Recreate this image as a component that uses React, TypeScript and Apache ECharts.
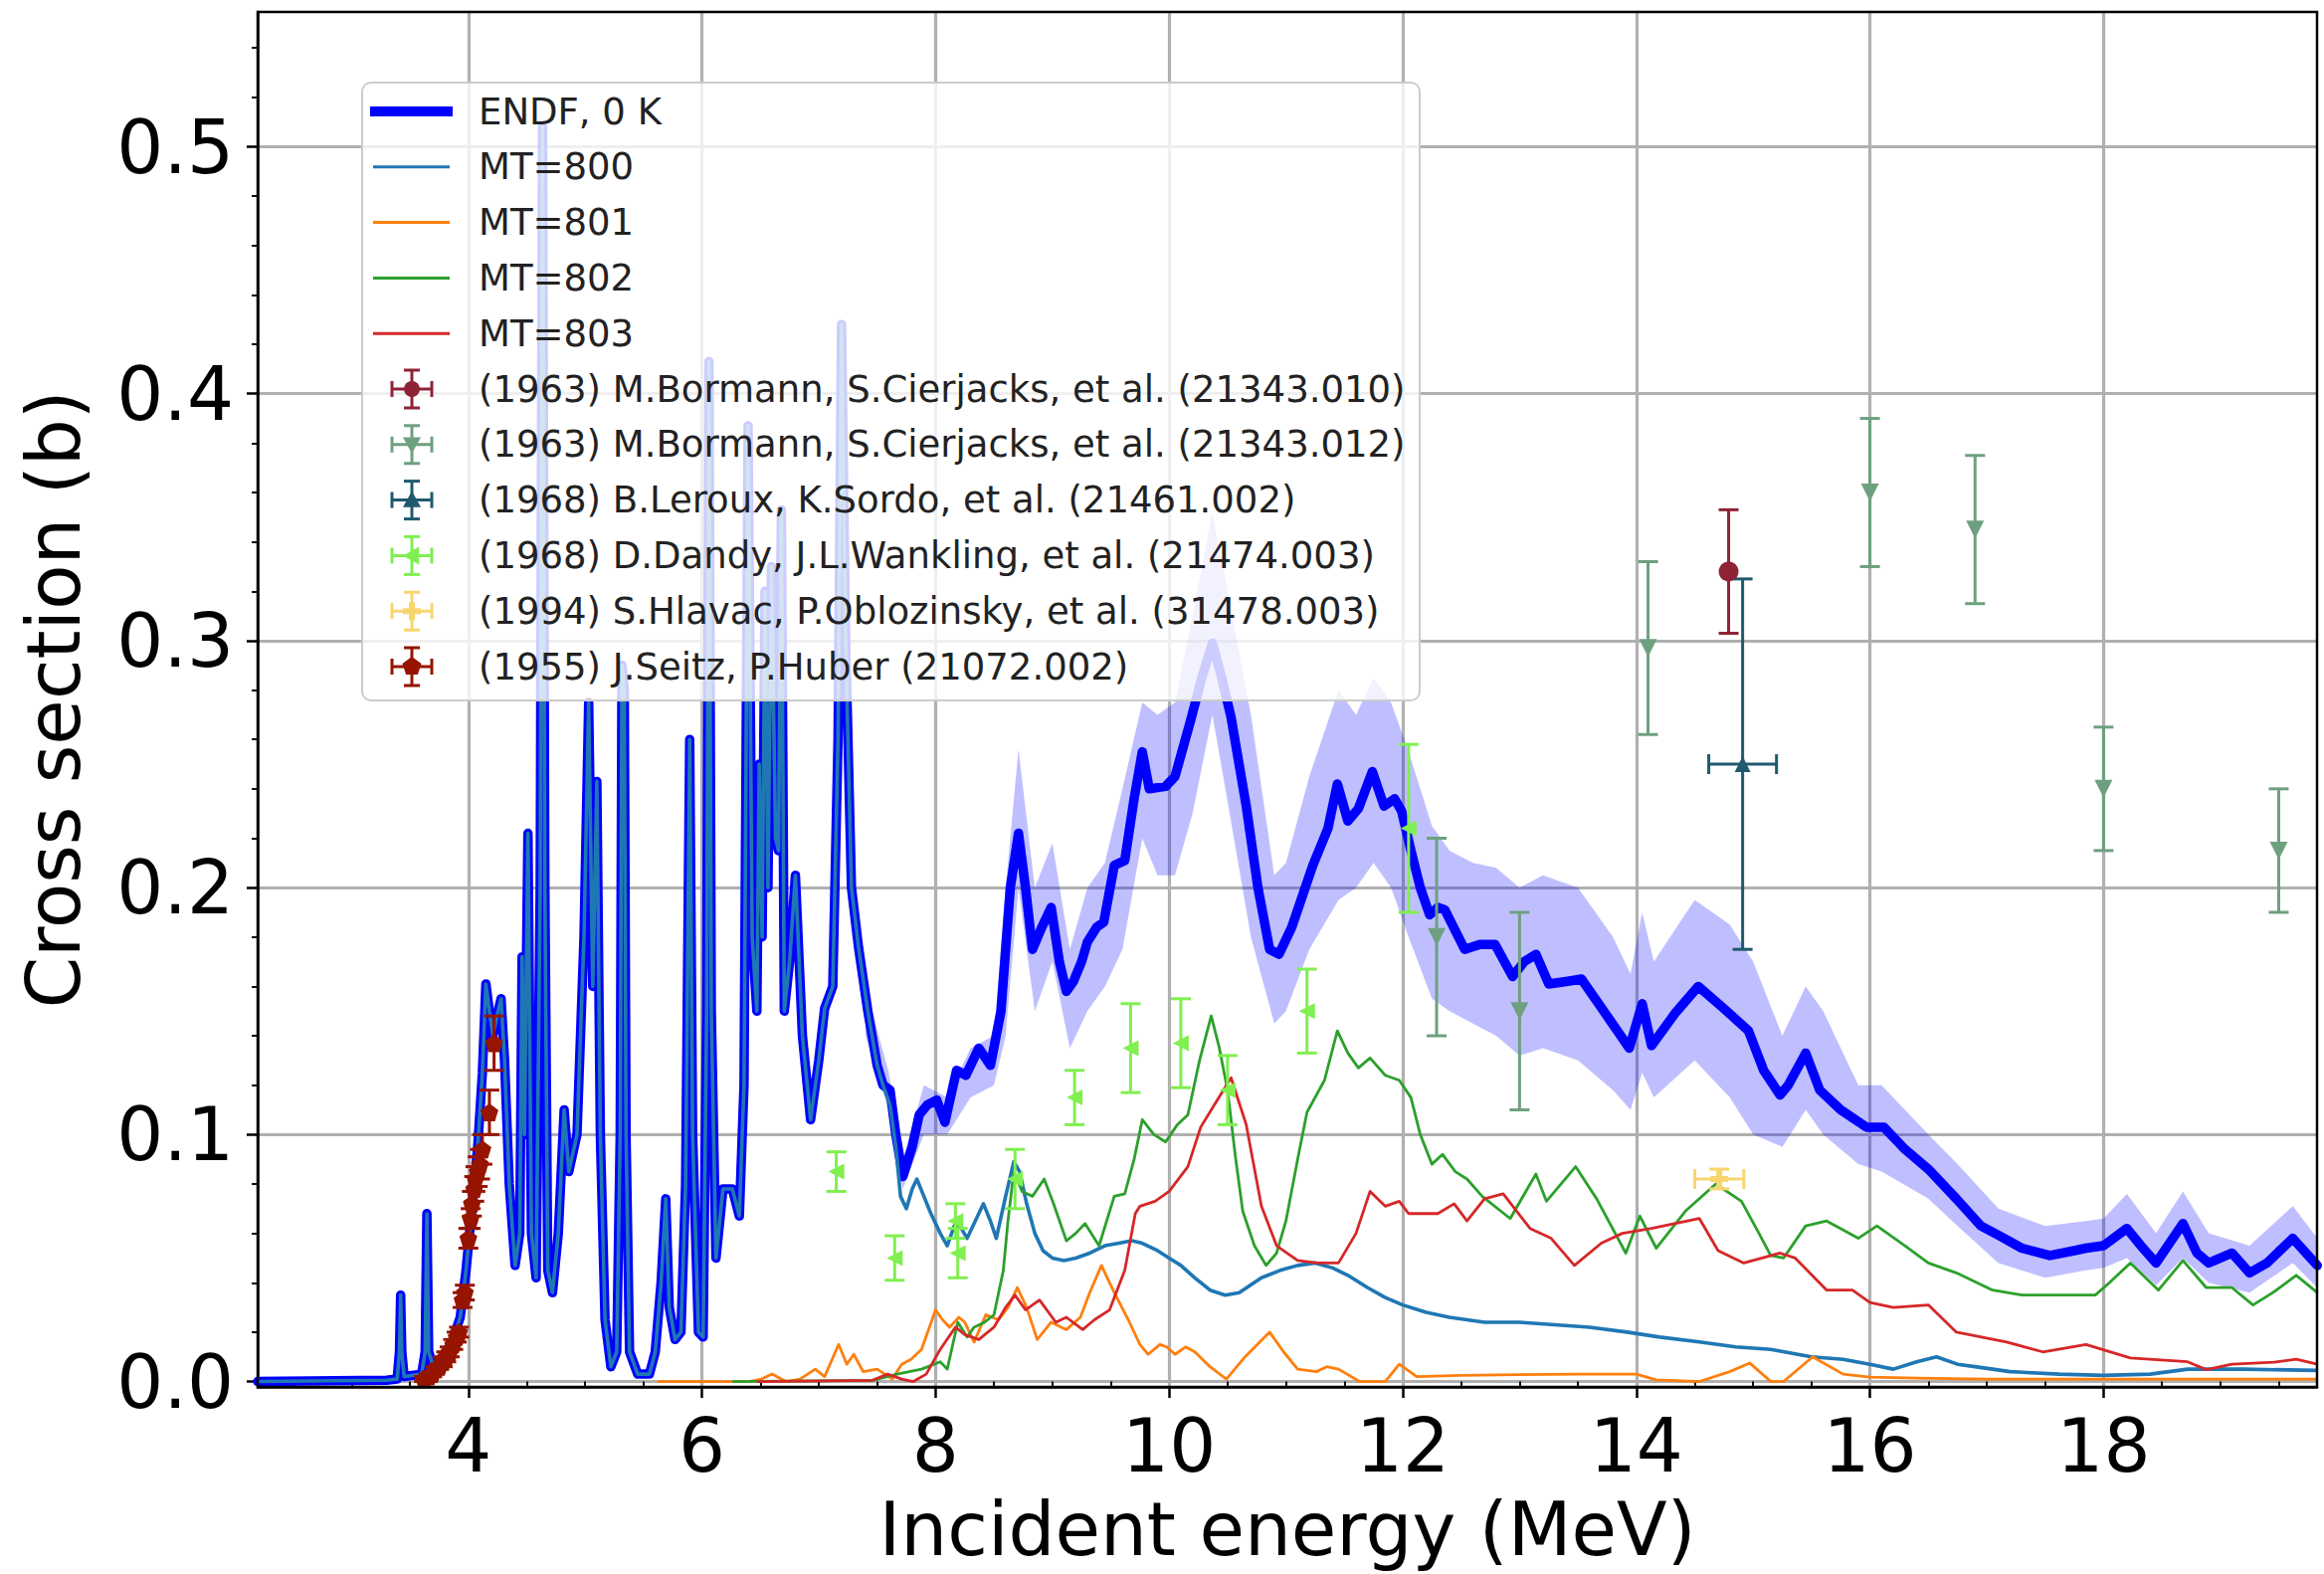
import React, { useEffect, useRef } from "react";
import * as echarts from "echarts";

// ---------------- axis ranges & ticks ----------------
const X_MIN = 2.196;
const X_MAX = 19.828;
const Y_MIN = -0.0022;
const Y_MAX = 0.5546;
const xMajorTicks = [4, 6, 8, 10, 12, 14, 16, 18];
const xMinorTicks = [2.5, 3, 3.5, 4.5, 5, 5.5, 6.5, 7, 7.5, 8.5, 9, 9.5, 10.5, 11, 11.5, 12.5, 13, 13.5, 14.5, 15, 15.5, 16.5, 17, 17.5, 18.5, 19, 19.5];
const yMajorTicks = [0, 0.1, 0.2, 0.3, 0.4, 0.5];
const yMinorTicks = [0.02, 0.04, 0.06, 0.08, 0.12, 0.14, 0.16, 0.18, 0.22, 0.24, 0.26, 0.28, 0.32, 0.34, 0.36, 0.38, 0.42, 0.44, 0.46, 0.48, 0.52, 0.54];

// ---------------- ENDF total (0 K) ----------------
const endfE = [
  2.196, 3.3, 3.39, 3.41, 3.42, 3.43, 3.45, 3.6, 3.63, 3.645, 3.66, 3.7, 3.78, 3.86, 3.93, 3.98,
  4.03, 4.08, 4.12, 4.15, 4.18, 4.21, 4.245, 4.28, 4.31, 4.35, 4.4, 4.44, 4.46, 4.48, 4.51, 4.54,
  4.58, 4.615, 4.635, 4.655, 4.68, 4.72, 4.77, 4.82, 4.86, 4.93, 4.99, 5.03, 5.065, 5.1, 5.13, 5.17,
  5.22, 5.27, 5.3, 5.315, 5.335, 5.35, 5.38, 5.45, 5.55, 5.6, 5.65, 5.69, 5.72, 5.77, 5.82, 5.86,
  5.895, 5.92, 5.97, 6.01, 6.04, 6.06, 6.08, 6.12, 6.18, 6.26, 6.32, 6.36, 6.395, 6.43, 6.47, 6.49,
  6.515, 6.54, 6.565, 6.595, 6.63, 6.655, 6.68, 6.705, 6.75, 6.8, 6.86, 6.93, 7.0, 7.05, 7.12, 7.165,
  7.195, 7.23, 7.28, 7.34, 7.42, 7.5, 7.55, 7.61, 7.66, 7.72, 7.8, 7.86, 7.93, 8.01, 8.08, 8.18,
  8.26, 8.37, 8.47, 8.56, 8.64, 8.71, 8.77, 8.83, 8.91, 8.99, 9.06, 9.12, 9.18, 9.25, 9.3, 9.38,
  9.44, 9.53, 9.62, 9.7, 9.77, 9.83, 9.97, 10.05, 10.18, 10.28, 10.37, 10.45, 10.53, 10.66, 10.76, 10.86,
  10.94, 11.05, 11.23, 11.36, 11.44, 11.53, 11.62, 11.74, 11.84, 11.93, 11.99, 12.07, 12.15, 12.23, 12.3, 12.36,
  12.53, 12.66, 12.79, 12.94, 13.04, 13.14, 13.25, 13.4, 13.53, 13.75, 13.94, 14.05, 14.13, 14.33, 14.53, 14.75,
  14.96, 15.09, 15.23, 15.3, 15.45, 15.57, 15.75, 15.97, 16.12, 16.3, 16.5, 16.74, 16.95, 17.11, 17.3, 17.54,
  17.75, 17.85, 18.0, 18.2, 18.32, 18.45, 18.68, 18.8, 18.9, 19.1, 19.25, 19.4, 19.62, 19.83,
];
const endfXS = [
  0.0, 0.0005, 0.001, 0.012, 0.035, 0.012, 0.002, 0.003, 0.012, 0.068, 0.012, 0.006, 0.009, 0.016, 0.026, 0.045,
  0.07, 0.095, 0.125, 0.161, 0.15, 0.14, 0.148, 0.155, 0.13, 0.08, 0.047, 0.06, 0.172, 0.1, 0.222, 0.06,
  0.042, 0.2, 0.508, 0.2, 0.045, 0.036, 0.06, 0.11, 0.085, 0.1, 0.18, 0.275, 0.16, 0.243, 0.1, 0.025,
  0.006, 0.012, 0.1, 0.29, 0.28, 0.1, 0.012, 0.003, 0.003, 0.012, 0.04, 0.074, 0.03, 0.017, 0.02, 0.08,
  0.26, 0.1, 0.02, 0.018, 0.15, 0.413, 0.15, 0.05, 0.078, 0.078, 0.067, 0.12, 0.387, 0.18, 0.15, 0.25,
  0.18, 0.32, 0.2, 0.33, 0.22, 0.215, 0.353, 0.15, 0.17, 0.205, 0.14, 0.106, 0.13, 0.151, 0.16, 0.26,
  0.428, 0.3, 0.2, 0.176, 0.15, 0.128, 0.12, 0.118, 0.1, 0.083, 0.095, 0.108, 0.112, 0.114, 0.105, 0.126,
  0.124, 0.135, 0.128, 0.15, 0.2, 0.222, 0.2, 0.175, 0.184, 0.192, 0.17, 0.158, 0.162, 0.17, 0.178, 0.184,
  0.186, 0.209, 0.211, 0.236, 0.255, 0.24, 0.241, 0.245, 0.267, 0.285, 0.299, 0.285, 0.269, 0.233, 0.2, 0.175,
  0.173, 0.184, 0.209, 0.224, 0.242, 0.227, 0.232, 0.247, 0.233, 0.236, 0.231, 0.215, 0.2, 0.189, 0.192, 0.191,
  0.175, 0.177, 0.177, 0.164, 0.17, 0.173, 0.161, 0.162, 0.163, 0.148, 0.135, 0.153, 0.136, 0.149, 0.16, 0.151,
  0.142, 0.126, 0.116, 0.12, 0.133, 0.118, 0.11, 0.103, 0.103, 0.094, 0.086, 0.074, 0.063, 0.059, 0.054, 0.051,
  0.053, 0.054, 0.055, 0.062, 0.055, 0.048, 0.064, 0.052, 0.048, 0.052, 0.044, 0.048, 0.058, 0.047,
];

// uncertainty band of the total
const bandE = [
  7.4, 7.6, 7.72, 7.9, 8.1, 8.3, 8.5, 8.6, 8.71, 8.85, 9.0, 9.15, 9.3, 9.45, 9.6, 9.77,
  9.9, 10.05, 10.2, 10.37, 10.5, 10.7, 10.9, 11.0, 11.2, 11.45, 11.6, 11.75, 11.9, 12.05, 12.25, 12.4,
  12.6, 12.8, 13.0, 13.2, 13.5, 13.8, 13.95, 14.05, 14.15, 14.5, 14.8, 15.0, 15.25, 15.45, 15.6, 15.9,
  16.1, 16.5, 16.75, 17.1, 17.5, 17.85, 18.0, 18.2, 18.45, 18.68, 18.9, 19.25, 19.62, 19.83,
];
const bandLo = [
  0.14, 0.11, 0.078, 0.1, 0.1, 0.115, 0.12, 0.14, 0.2, 0.15, 0.17, 0.135, 0.15, 0.16, 0.175, 0.22,
  0.205, 0.205, 0.23, 0.27, 0.235, 0.18, 0.145, 0.15, 0.175, 0.195, 0.2, 0.21, 0.2, 0.18, 0.155, 0.15,
  0.145, 0.14, 0.132, 0.135, 0.13, 0.118, 0.11, 0.125, 0.115, 0.13, 0.115, 0.1, 0.095, 0.11, 0.1, 0.088,
  0.085, 0.074, 0.063, 0.048, 0.042, 0.045, 0.046, 0.05, 0.039, 0.05, 0.04, 0.036, 0.048, 0.038,
];
const bandHi = [
  0.16, 0.125, 0.09, 0.12, 0.115, 0.135, 0.14, 0.2, 0.256, 0.2, 0.218, 0.175, 0.2, 0.21, 0.24, 0.275,
  0.27, 0.275, 0.31, 0.352, 0.32, 0.27, 0.205, 0.21, 0.245, 0.28, 0.27, 0.285, 0.275, 0.255, 0.225, 0.215,
  0.21, 0.208, 0.2, 0.205, 0.2, 0.18, 0.165, 0.19, 0.17, 0.195, 0.185, 0.17, 0.14, 0.16, 0.15, 0.12,
  0.12, 0.1, 0.088, 0.07, 0.063, 0.065, 0.066, 0.076, 0.06, 0.077, 0.06, 0.055, 0.071, 0.058,
];

// ---------------- partial reactions ----------------
const MT800_SPLIT_E = 7.55; // below this MT=800 coincides with the total
const mt800TailE = [
  7.61, 7.66, 7.7, 7.75, 7.8, 7.84, 7.9, 7.96, 8.04, 8.1, 8.16, 8.22, 8.27, 8.33, 8.41, 8.47,
  8.52, 8.6, 8.67, 8.72, 8.78, 8.85, 8.92, 9.0, 9.1, 9.2, 9.32, 9.45, 9.57, 9.68, 9.77, 9.9,
  10.0, 10.1, 10.22, 10.35, 10.48, 10.6, 10.79, 10.95, 11.1, 11.25, 11.4, 11.53, 11.7, 11.85, 12.0, 12.2,
  12.4, 12.7, 13.0, 13.3, 13.6, 13.92, 14.2, 14.54, 14.85, 15.15, 15.5, 15.77, 16.0, 16.2, 16.4, 16.57,
  16.75, 16.9, 17.2, 17.62, 18.0, 18.4, 18.72, 19.2, 19.83,
];
const mt800TailXS = [
  0.112, 0.095, 0.075, 0.07, 0.078, 0.082, 0.075, 0.068, 0.06, 0.055, 0.063, 0.062, 0.058, 0.064, 0.072, 0.065,
  0.058, 0.075, 0.089, 0.085, 0.072, 0.06, 0.053, 0.05, 0.049, 0.05, 0.052, 0.055, 0.056, 0.057, 0.056, 0.053,
  0.05, 0.047, 0.042, 0.037, 0.035, 0.036, 0.042, 0.045, 0.047, 0.048, 0.046, 0.043, 0.038, 0.034, 0.031, 0.028,
  0.026, 0.024, 0.024, 0.023, 0.022, 0.02, 0.018, 0.016, 0.014, 0.013, 0.01, 0.009, 0.007, 0.005, 0.008, 0.01,
  0.007, 0.006, 0.004, 0.003, 0.0025, 0.003, 0.005, 0.005, 0.0045,
];

const mt801E = [
  5.62, 6.4, 6.51, 6.6, 6.72, 6.84, 6.97, 7.05, 7.17, 7.24, 7.3, 7.38, 7.5, 7.63, 7.71, 7.79,
  7.88, 8.0, 8.06, 8.12, 8.2, 8.25, 8.33, 8.43, 8.54, 8.62, 8.7, 8.78, 8.87, 8.99, 9.12, 9.24,
  9.32, 9.42, 9.53, 9.65, 9.75, 9.82, 9.92, 9.98, 10.05, 10.14, 10.22, 10.35, 10.49, 10.65, 10.86, 10.98,
  11.1, 11.26, 11.35, 11.45, 11.63, 11.85, 11.97, 12.12, 12.5, 13.0, 13.5, 14.0, 14.17, 14.54, 14.8, 14.97,
  15.15, 15.26, 15.51, 15.77, 16.0, 16.4, 17.0, 18.0, 19.0, 19.83,
];
const mt801XS = [
  0.0, 0.0, 0.001, 0.003, 0.0, 0.001, 0.005, 0.002, 0.015, 0.007, 0.011, 0.004, 0.005, 0.001, 0.007, 0.009,
  0.013, 0.029, 0.025, 0.022, 0.026, 0.024, 0.016, 0.027, 0.025, 0.03, 0.038, 0.03, 0.017, 0.024, 0.021, 0.026,
  0.036, 0.047, 0.036, 0.025, 0.015, 0.011, 0.015, 0.014, 0.011, 0.014, 0.012, 0.006, 0.001, 0.01, 0.02, 0.012,
  0.005, 0.004, 0.006, 0.005, 0.0, 0.0, 0.007, 0.002, 0.0025, 0.0028, 0.003, 0.003, 0.0007, 0.0, 0.004, 0.0075,
  0.0, 0.0, 0.01, 0.003, 0.0018, 0.0014, 0.001, 0.001, 0.001, 0.001,
];

const mt802E = [
  6.26, 7.46, 7.67, 7.88, 8.04, 8.1, 8.19, 8.27, 8.33, 8.42, 8.5, 8.58, 8.62, 8.67, 8.74, 8.83,
  8.93, 9.01, 9.12, 9.2, 9.28, 9.4, 9.53, 9.62, 9.7, 9.77, 9.87, 9.97, 10.07, 10.16, 10.26, 10.36,
  10.43, 10.5, 10.57, 10.63, 10.73, 10.83, 10.92, 11.0, 11.1, 11.18, 11.33, 11.44, 11.53, 11.62, 11.72, 11.85,
  11.97, 12.07, 12.15, 12.25, 12.34, 12.45, 12.55, 12.68, 12.92, 13.14, 13.23, 13.48, 13.66, 13.91, 14.03, 14.17,
  14.42, 14.68, 14.9, 15.05, 15.15, 15.26, 15.45, 15.63, 15.9, 16.06, 16.3, 16.5, 16.74, 17.05, 17.3, 17.93,
  18.05, 18.23, 18.47, 18.68, 18.88, 19.1, 19.28, 19.45, 19.65, 19.83,
];
const mt802XS = [
  0.0, 0.0005, 0.003, 0.005, 0.008, 0.005, 0.024, 0.018, 0.022, 0.024, 0.027, 0.045, 0.065, 0.085, 0.077, 0.075,
  0.082, 0.072, 0.057, 0.06, 0.064, 0.055, 0.075, 0.076, 0.09, 0.106, 0.1, 0.097, 0.104, 0.108, 0.13, 0.148,
  0.135, 0.118, 0.09, 0.069, 0.055, 0.047, 0.052, 0.065, 0.09, 0.109, 0.122, 0.142, 0.133, 0.127, 0.131, 0.124,
  0.122, 0.115, 0.1, 0.088, 0.092, 0.085, 0.082, 0.075, 0.066, 0.084, 0.073, 0.087, 0.074, 0.052, 0.067, 0.054,
  0.069, 0.08, 0.073, 0.06, 0.051, 0.05, 0.063, 0.065, 0.058, 0.063, 0.055, 0.048, 0.044, 0.037, 0.035, 0.035,
  0.04, 0.048, 0.037, 0.049, 0.038, 0.038, 0.031, 0.036, 0.043, 0.036,
];

const mt803E = [
  6.47, 7.46, 7.59, 7.71, 7.81, 7.92, 8.04, 8.17, 8.25, 8.37, 8.5, 8.6, 8.68, 8.77, 8.89, 9.03,
  9.12, 9.26, 9.36, 9.49, 9.62, 9.71, 9.75, 9.88, 10.0, 10.16, 10.27, 10.4, 10.53, 10.66, 10.79, 10.92,
  11.1, 11.27, 11.45, 11.6, 11.72, 11.85, 11.97, 12.05, 12.3, 12.44, 12.55, 12.7, 12.86, 13.09, 13.27, 13.47,
  13.7, 13.88, 14.13, 14.54, 14.7, 14.92, 15.23, 15.36, 15.63, 15.85, 16.0, 16.2, 16.5, 16.74, 17.17, 17.48,
  17.85, 18.23, 18.72, 18.88, 19.1, 19.46, 19.65, 19.83,
];
const mt803XS = [
  0.0, 0.0005, 0.003, 0.001, 0.0, 0.003, 0.013, 0.022, 0.019, 0.017, 0.022, 0.03, 0.035, 0.029, 0.033, 0.024,
  0.026, 0.021, 0.025, 0.029, 0.045, 0.068, 0.071, 0.073, 0.077, 0.087, 0.103, 0.113, 0.123, 0.104, 0.071, 0.055,
  0.049, 0.048, 0.048, 0.06, 0.077, 0.071, 0.073, 0.068, 0.068, 0.072, 0.065, 0.074, 0.076, 0.062, 0.058, 0.047,
  0.056, 0.06, 0.062, 0.066, 0.053, 0.048, 0.052, 0.05, 0.037, 0.037, 0.032, 0.03, 0.031, 0.02, 0.016, 0.012,
  0.015, 0.0095, 0.008, 0.0048, 0.007, 0.0078, 0.009, 0.007,
];

// ---------------- EXFOR data ----------------
const bormann010E = [14.79];
const bormann010XS = [0.328];
const bormann010dXS = [0.025];

const bormann012E = [12.29, 13.0, 14.1, 16.0, 16.9, 18.0, 19.5];
const bormann012XS = [0.18, 0.15, 0.297, 0.36, 0.345, 0.24, 0.215];
const bormann012dXS = [0.04, 0.04, 0.035, 0.03, 0.03, 0.025, 0.025];

const lerouxE = [14.91];
const lerouxXS = [0.25];
const lerouxdXS = [0.075];
const lerouxdE = [0.29];

const dandyE = [7.15, 7.65, 8.17, 8.19, 8.68, 9.19, 9.67, 10.1, 10.5, 11.18, 12.05];
const dandyXS = [0.085, 0.05, 0.065, 0.052, 0.082, 0.115, 0.135, 0.137, 0.118, 0.15, 0.224];
const dandydXS = [0.008, 0.009, 0.007, 0.01, 0.012, 0.011, 0.018, 0.018, 0.014, 0.017, 0.034];

const hlavacE = [14.71];
const hlavacXS = [0.082];
const hlavacdXS = [0.004];
const hlavacdE = [0.21];

const seitzE = [3.62, 3.66, 3.69, 3.72, 3.75, 3.78, 3.81, 3.84, 3.87, 3.9, 3.92, 3.95, 3.97, 4.0, 4.02, 4.03, 4.05, 4.06, 4.08, 4.1, 4.12, 4.18, 4.22];
const seitzXS = [0.001, 0.002, 0.003, 0.005, 0.006, 0.008, 0.01, 0.012, 0.015, 0.018, 0.02, 0.033, 0.036, 0.058, 0.066, 0.072, 0.078, 0.082, 0.085, 0.088, 0.094, 0.109, 0.137];
const seitzdXS = [0.001, 0.001, 0.001, 0.001, 0.001, 0.002, 0.002, 0.002, 0.002, 0.002, 0.002, 0.003, 0.003, 0.004, 0.004, 0.005, 0.005, 0.005, 0.006, 0.006, 0.006, 0.009, 0.011];

// ---------------- styles ----------------
const FONT = "DejaVu Sans";
const C_TOTAL = "#0000ff";
const C_800 = "#1f77b4";
const C_801 = "#ff7f0e";
const C_802 = "#2ca02c";
const C_803 = "#d62728";
const C_B010 = "#8f2336";
const C_B012 = "#6ea080";
const C_LER = "#1f5a6e";
const C_DAN = "#80ef50";
const C_HLA = "#f8d66e";
const C_SEI = "#961400";

const GRID_L = 259;
const GRID_T = 12;
const GRID_W = 2070;
const GRID_H = 1382;

const PENTAGON = "path://M0,-10L9.5,-3.1L5.9,8.1L-5.9,8.1L-9.5,-3.1Z";
const PLUS = "path://M-3,-9H3V-3H9V3H3V9H-3V3H-9V-3H-3Z";

function pairs(xs: number[], ys: number[]) {
  return xs.map((x, i) => [x, ys[i]]);
}

function errorBarSeries(name: string, color: string, xs: number[], ys: number[], dys: number[], dxs?: number[]) {
  const data = xs.map((x, i) => [x, ys[i], dxs ? dxs[i] : 0, dys[i]]);
  const cap = 10;
  return {
    type: "custom",
    name: name + " err",
    z: 4,
    silent: true,
    data,
    encode: { x: 0, y: 1 },
    renderItem: (params: any, api: any) => {
      const x = api.value(0);
      const y = api.value(1);
      const dx = api.value(2);
      const dy = api.value(3);
      const style = { stroke: color, lineWidth: 3, fill: "none" };
      const children: any[] = [];
      if (dy > 0) {
        const t = api.coord([x, y + dy]);
        const b = api.coord([x, y - dy]);
        children.push({ type: "line", shape: { x1: t[0], y1: t[1], x2: b[0], y2: b[1] }, style });
        children.push({ type: "line", shape: { x1: t[0] - cap, y1: t[1], x2: t[0] + cap, y2: t[1] }, style });
        children.push({ type: "line", shape: { x1: b[0] - cap, y1: b[1], x2: b[0] + cap, y2: b[1] }, style });
      }
      if (dx > 0) {
        const l = api.coord([x - dx, y]);
        const r = api.coord([x + dx, y]);
        children.push({ type: "line", shape: { x1: l[0], y1: l[1], x2: r[0], y2: r[1] }, style });
        children.push({ type: "line", shape: { x1: l[0], y1: l[1] - cap, x2: l[0], y2: l[1] + cap }, style });
        children.push({ type: "line", shape: { x1: r[0], y1: r[1] - cap, x2: r[0], y2: r[1] + cap }, style });
      }
      return { type: "group", children };
    },
  };
}

function markerSeries(name: string, color: string, xs: number[], ys: number[], symbol: string, size: number, rotate = 0) {
  return {
    type: "scatter",
    name,
    z: 5,
    silent: true,
    symbol,
    symbolSize: size,
    symbolRotate: rotate,
    itemStyle: { color, opacity: 1 },
    data: pairs(xs, ys),
  };
}

// ---------------- legend (drawn as graphics) ----------------
const legendLabels = [
  "ENDF, 0 K",
  "MT=800",
  "MT=801",
  "MT=802",
  "MT=803",
  "(1963) M.Bormann, S.Cierjacks, et al. (21343.010)",
  "(1963) M.Bormann, S.Cierjacks, et al. (21343.012)",
  "(1968) B.Leroux, K.Sordo, et al. (21461.002)",
  "(1968) D.Dandy, J.L.Wankling, et al. (21474.003)",
  "(1994) S.Hlavac, P.Oblozinsky, et al. (31478.003)",
  "(1955) J.Seitz, P.Huber (21072.002)",
];
const legendColors = [C_TOTAL, C_800, C_801, C_802, C_803, C_B010, C_B012, C_LER, C_DAN, C_HLA, C_SEI];
const legendMarkers = ["", "", "", "", "", "circle", "triDown", "triUp", "triLeft", "plus", "pentagon"];

function legendMarker(kind: string, cx: number, cy: number, color: string): any {
  const s = 9;
  const base = { z: 101, silent: true, style: { fill: color } };
  if (kind === "circle") return { ...base, type: "circle", shape: { cx, cy, r: 8 } };
  let pts: number[][] = [];
  if (kind === "triDown") pts = [[cx - s, cy - s * 0.8], [cx + s, cy - s * 0.8], [cx, cy + s]];
  if (kind === "triUp") pts = [[cx - s, cy + s * 0.8], [cx + s, cy + s * 0.8], [cx, cy - s]];
  if (kind === "triLeft") pts = [[cx + s * 0.8, cy - s], [cx + s * 0.8, cy + s], [cx - s, cy]];
  if (kind === "plus") pts = [[cx - 3, cy - 9], [cx + 3, cy - 9], [cx + 3, cy - 3], [cx + 9, cy - 3], [cx + 9, cy + 3], [cx + 3, cy + 3], [cx + 3, cy + 9], [cx - 3, cy + 9], [cx - 3, cy + 3], [cx - 9, cy + 3], [cx - 9, cy - 3], [cx - 3, cy - 3]];
  if (kind === "pentagon") pts = [[cx, cy - 10], [cx + 9.5, cy - 3.1], [cx + 5.9, cy + 8.1], [cx - 5.9, cy + 8.1], [cx - 9.5, cy - 3.1]];
  return { ...base, type: "polygon", shape: { points: pts } };
}

function buildLegend(): any[] {
  const els: any[] = [];
  const LX = 364, LY = 83, LW = 1063, LH = 621;
  els.push({
    type: "rect",
    z: 100,
    silent: true,
    shape: { x: LX, y: LY, width: LW, height: LH, r: 9 },
    style: { fill: "rgba(255,255,255,0.8)", stroke: "#cccccc", lineWidth: 2 },
  });
  legendLabels.forEach((label, i) => {
    const cy = 112 + i * 55.8;
    const color = legendColors[i];
    if (i < 5) {
      els.push({
        type: "line",
        z: 101,
        silent: true,
        shape: { x1: i === 0 ? 372 : 375, y1: cy, x2: i === 0 ? 455 : 452, y2: cy },
        style: { stroke: color, lineWidth: i === 0 ? 10 : 3 },
      });
    } else {
      const cx = 414;
      const st = { stroke: color, lineWidth: 3 };
      const seg = (x1: number, y1: number, x2: number, y2: number) =>
        els.push({ type: "line", z: 101, silent: true, shape: { x1, y1, x2, y2 }, style: st });
      seg(cx - 20, cy, cx + 20, cy);
      seg(cx, cy - 19, cx, cy + 19);
      seg(cx - 20, cy - 8, cx - 20, cy + 8);
      seg(cx + 20, cy - 8, cx + 20, cy + 8);
      seg(cx - 8, cy - 19, cx + 8, cy - 19);
      seg(cx - 8, cy + 19, cx + 8, cy + 19);
      els.push(legendMarker(legendMarkers[i], cx, cy, color));
    }
    els.push({
      type: "text",
      z: 101,
      silent: true,
      x: 481,
      y: cy,
      style: {
        text: label,
        fontSize: 37,
        fontFamily: FONT,
        fill: "#222222",
        textAlign: "left",
        textVerticalAlign: "middle",
        align: "left",
        verticalAlign: "middle",
      },
    });
  });
  return els;
}

export default function App() {
  const ref = useRef<HTMLDivElement>(null);

  useEffect(() => {
    if (!ref.current) return;
    const chart = echarts.init(ref.current, undefined, { renderer: "svg" });

    const mt800Data = pairs(endfE, endfXS)
      .filter((p) => p[0] <= MT800_SPLIT_E)
      .concat(pairs(mt800TailE, mt800TailXS));

    const axisCommonX = {
      type: "value",
      min: X_MIN,
      max: X_MAX,
      gridIndex: 0,
      position: "bottom",
    };
    const axisCommonY = {
      type: "value",
      min: Y_MIN,
      max: Y_MAX,
      gridIndex: 0,
      position: "left",
    };

    const option: any = {
      animation: false,
      backgroundColor: "#ffffff",
      textStyle: { fontFamily: FONT },
      grid: { left: GRID_L, top: GRID_T, width: GRID_W, height: GRID_H, containLabel: false, show: false },
      xAxis: [
        {
          ...axisCommonX,
          splitNumber: 8,
          name: "Incident energy (MeV)",
          nameLocation: "middle",
          nameGap: 106,
          nameTextStyle: { fontSize: 74, fontFamily: FONT, color: "#000" },
          axisLine: { show: true, onZero: false, lineStyle: { color: "#000", width: 2.5 } },
          axisTick: { show: true, inside: false, length: 11, customValues: xMajorTicks, lineStyle: { color: "#000", width: 2.5 } },
          axisLabel: {
            show: true,
            customValues: xMajorTicks,
            margin: 22,
            fontSize: 74,
            fontFamily: FONT,
            color: "#000",
            formatter: (v: number) => String(Math.round(v)),
          },
          splitLine: { show: true, lineStyle: { color: "#b0b0b0", width: 3.2 } },
          minorTick: { show: false },
        },
        {
          ...axisCommonX,
          axisLine: { show: false },
          axisTick: { show: true, inside: false, length: 6, customValues: xMinorTicks, lineStyle: { color: "#000", width: 1.9 } },
          axisLabel: { show: false },
          splitLine: { show: false },
        },
      ],
      yAxis: [
        {
          ...axisCommonY,
          splitNumber: 5,
          name: "Cross section (b)",
          nameLocation: "middle",
          nameGap: 168,
          nameTextStyle: { fontSize: 74, fontFamily: FONT, color: "#000" },
          axisLine: { show: true, onZero: false, lineStyle: { color: "#000", width: 2.5 } },
          axisTick: { show: true, inside: false, length: 11, customValues: yMajorTicks, lineStyle: { color: "#000", width: 2.5 } },
          axisLabel: {
            show: true,
            customValues: yMajorTicks,
            margin: 24,
            fontSize: 74,
            fontFamily: FONT,
            color: "#000",
            formatter: (v: number) => v.toFixed(1),
          },
          splitLine: { show: true, lineStyle: { color: "#b0b0b0", width: 3.2 } },
        },
        {
          ...axisCommonY,
          axisLine: { show: false },
          axisTick: { show: true, inside: false, length: 6, customValues: yMinorTicks, lineStyle: { color: "#000", width: 1.9 } },
          axisLabel: { show: false },
          splitLine: { show: false },
        },
      ],
      series: [
        {
          type: "custom",
          name: "ENDF uncertainty",
          z: 1,
          silent: true,
          data: bandE.map((e, i) => [e, bandLo[i], bandHi[i]]),
          encode: { x: 0, y: [1, 2] },
          renderItem: (params: any, api: any) => {
            if (params.dataIndex !== 0) return null;
            const upper = bandE.map((e, i) => api.coord([e, bandHi[i]]));
            const lower = bandE.map((e, i) => api.coord([e, bandLo[i]])).reverse();
            return {
              type: "polygon",
              shape: { points: upper.concat(lower) },
              style: { fill: "rgba(0,0,255,0.25)", stroke: "none" },
            };
          },
        },
        {
          type: "line",
          name: "ENDF, 0 K",
          z: 2,
          silent: true,
          symbol: "none",
          showSymbol: false,
          data: pairs(endfE, endfXS),
          lineStyle: { color: C_TOTAL, width: 9.5, cap: "round", join: "round" },
        },
        {
          type: "line",
          name: "MT=800",
          z: 3,
          silent: true,
          symbol: "none",
          data: mt800Data,
          lineStyle: { color: C_800, width: 3.6, join: "round" },
        },
        {
          type: "line",
          name: "MT=801",
          z: 3,
          silent: true,
          symbol: "none",
          data: pairs(mt801E, mt801XS),
          lineStyle: { color: C_801, width: 2.8, join: "round" },
        },
        {
          type: "line",
          name: "MT=802",
          z: 3,
          silent: true,
          symbol: "none",
          data: pairs(mt802E, mt802XS),
          lineStyle: { color: C_802, width: 2.8, join: "round" },
        },
        {
          type: "line",
          name: "MT=803",
          z: 3,
          silent: true,
          symbol: "none",
          data: pairs(mt803E, mt803XS),
          lineStyle: { color: C_803, width: 2.8, join: "round" },
        },
        errorBarSeries("Bormann 21343.010", C_B010, bormann010E, bormann010XS, bormann010dXS),
        errorBarSeries("Bormann 21343.012", C_B012, bormann012E, bormann012XS, bormann012dXS),
        errorBarSeries("Leroux 21461.002", C_LER, lerouxE, lerouxXS, lerouxdXS, lerouxdE),
        errorBarSeries("Dandy 21474.003", C_DAN, dandyE, dandyXS, dandydXS),
        errorBarSeries("Hlavac 31478.003", C_HLA, hlavacE, hlavacXS, hlavacdXS, hlavacdE),
        errorBarSeries("Seitz 21072.002", C_SEI, seitzE, seitzXS, seitzdXS),
        markerSeries("(1963) M.Bormann, S.Cierjacks, et al. (21343.010)", C_B010, bormann010E, bormann010XS, "circle", 20),
        markerSeries("(1963) M.Bormann, S.Cierjacks, et al. (21343.012)", C_B012, bormann012E, bormann012XS, "triangle", 18, 180),
        markerSeries("(1968) B.Leroux, K.Sordo, et al. (21461.002)", C_LER, lerouxE, lerouxXS, "triangle", 16),
        markerSeries("(1968) D.Dandy, J.L.Wankling, et al. (21474.003)", C_DAN, dandyE, dandyXS, "triangle", 16, 90),
        markerSeries("(1994) S.Hlavac, P.Oblozinsky, et al. (31478.003)", C_HLA, hlavacE, hlavacXS, PLUS, 18),
        markerSeries("(1955) J.Seitz, P.Huber (21072.002)", C_SEI, seitzE, seitzXS, PENTAGON, 18),
      ],
      graphic: {
        elements: [
          {
            type: "rect",
            z: 50,
            silent: true,
            shape: { x: GRID_L, y: GRID_T, width: GRID_W, height: GRID_H },
            style: { fill: "none", stroke: "#000", lineWidth: 2.5 },
          },
          ...buildLegend(),
        ],
      },
    };

    chart.setOption(option);
    return () => chart.dispose();
  }, []);

  return (
    <div
      ref={ref}
      style={{ position: "absolute", left: 0, top: 0, width: 2336, height: 1582, background: "#fff" }}
    />
  );
}
